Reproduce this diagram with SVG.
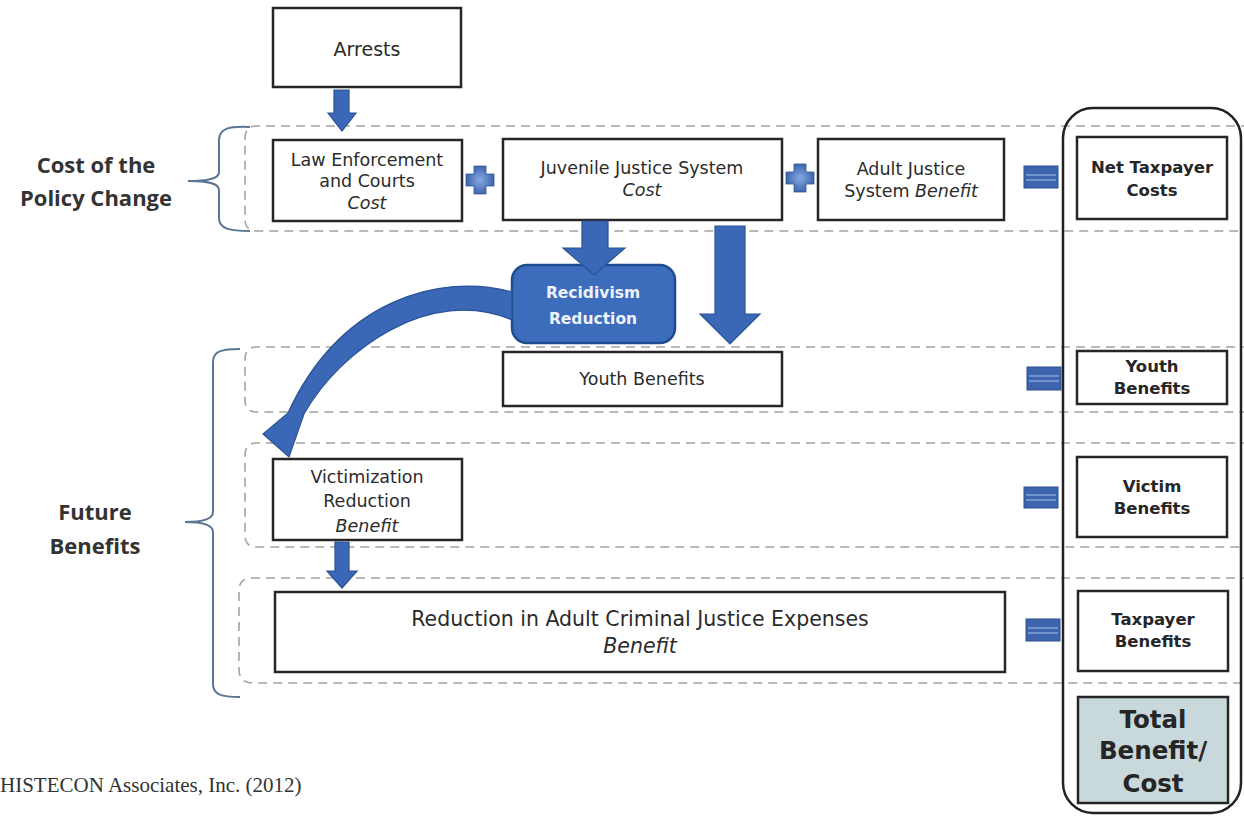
<svg xmlns="http://www.w3.org/2000/svg" width="1244" height="816" viewBox="0 0 1244 816">
<defs>
<radialGradient id="plusGrad" cx="0.5" cy="0.5" r="0.6"><stop offset="0" stop-color="#86a9e2"/><stop offset="1" stop-color="#2f58a3"/></radialGradient>
<style>
.box{fill:#fff;stroke:#262626;stroke-width:2.5}
.dash{fill:none;stroke:#a3a3a3;stroke-width:1.6;stroke-dasharray:9 6}
.brace{fill:none;stroke:#5b7592;stroke-width:2}
.t{font-family:"DejaVu Sans",Verdana,sans-serif;font-size:17.5px;fill:#2b2b2b;text-anchor:middle}
.i{font-style:italic}
.b{font-family:"DejaVu Sans",Verdana,sans-serif;font-weight:bold;font-size:16.5px;fill:#262626;text-anchor:middle}
.lbl{font-family:"Open Sans","Liberation Sans",sans-serif;font-weight:bold;font-size:22px;fill:#333;text-anchor:middle}
.blk{fill:#3a68b6;stroke:#2a5395;stroke-width:1.2}
.eq{fill:#3f64ae;stroke:#2c4f93;stroke-width:1}
.eql{stroke:#86a3d6;stroke-width:1.5}
.plus{fill:url(#plusGrad);stroke:#2f58a3;stroke-width:0.8}
</style>
</defs>
<rect width="1244" height="816" fill="#fff"/>

<g id="groups">
<path class="dash" d="M1250,126 H257 Q245,126 245,138 V219 Q245,231 257,231 H1250"/>
<path class="dash" d="M1250,347 H257 Q245,347 245,359 V400 Q245,412 257,412 H1250"/>
<path class="dash" d="M1250,443 H257 Q245,443 245,455 V535 Q245,547 257,547 H1250"/>
<path class="dash" d="M1250,578 H252 Q239,578 239,591 V669 Q239,683 252,683 H1250"/>
</g>

<g id="brace-cost">
<path class="brace" d="M250,127 C230,126 219,128 219,140 V172 C219,179 208,181 188,181 C208,181 219,183 219,190 V218 C219,229 230,231 250,231"/>
<text class="lbl" x="96" y="173">Cost of the</text>
<text class="lbl" x="96" y="206">Policy Change</text>
</g>
<g id="brace-future">
<path class="brace" d="M240,349 C222,349 213,351 213,362 V512 C213,519 202,522 185,522 C202,522 213,525 213,532 V684 C213,695 222,697 240,697"/>
<text class="lbl" x="95" y="520">Future</text>
<text class="lbl" x="95" y="554">Benefits</text>
</g>

<g id="total-column">
<rect x="1063" y="108" width="178" height="705" rx="30" fill="none" stroke="#222" stroke-width="2.5"/>
</g>

<g id="arrests">
<rect class="box" x="273" y="8" width="188" height="79"/>
<text class="t" x="367" y="56" style="font-size:19px">Arrests</text>
</g>
<g id="law">
<rect class="box" x="273" y="140" width="189" height="81"/>
<text class="t" x="367" y="166">Law Enforcement</text>
<text class="t" x="367" y="187">and Courts</text>
<text class="t i" x="367" y="209">Cost</text>
</g>
<g id="plus1"><path class="plus" d="M474,166 H486 V174 H494 V186 H486 V194 H474 V186 H466 V174 H474 Z"/></g>
<g id="juvenile">
<rect class="box" x="503" y="139" width="279" height="81"/>
<text class="t" x="642" y="174">Juvenile Justice System</text>
<text class="t i" x="642" y="196">Cost</text>
</g>
<g id="plus2"><path class="plus" transform="translate(320,-2)" d="M474,166 H486 V174 H494 V186 H486 V194 H474 V186 H466 V174 H474 Z"/></g>
<g id="adult">
<rect class="box" x="818" y="139" width="186" height="81"/>
<text class="t" x="911" y="175">Adult Justice</text>
<text class="t" x="911" y="197">System <tspan class="i">Benefit</tspan></text>
</g>
<g id="eq-net">
<rect class="eq" x="1024" y="166" width="34" height="22"/>
<line class="eql" x1="1026" y1="175" x2="1056" y2="175"/><line class="eql" x1="1026" y1="180" x2="1056" y2="180"/>
</g>
<g id="net-taxpayer">
<rect class="box" x="1077" y="137" width="150" height="82"/>
<text class="b" x="1152" y="173">Net Taxpayer</text>
<text class="b" x="1152" y="196">Costs</text>
</g>

<g id="recidivism">
<rect x="512" y="265" width="163" height="78" rx="15" fill="#3c6cbc" stroke="#1f4c8e" stroke-width="2.5"/>
<text class="b" x="593" y="298" style="fill:#eef3fb;font-size:15.5px">Recidivism</text>
<text class="b" x="593" y="324" style="fill:#eef3fb;font-size:15.5px">Reduction</text>
</g>

<g id="youth">
<rect class="box" x="503" y="352" width="279" height="54"/>
<text class="t" x="642" y="385">Youth Benefits</text>
</g>
<g id="eq-youth">
<rect class="eq" x="1027" y="367" width="34" height="23"/>
<line class="eql" x1="1029" y1="376" x2="1059" y2="376"/><line class="eql" x1="1029" y1="381" x2="1059" y2="381"/>
</g>
<g id="youth-benefits">
<rect class="box" x="1077" y="351" width="150" height="53"/>
<text class="b" x="1152" y="372">Youth</text>
<text class="b" x="1152" y="394">Benefits</text>
</g>

<g id="victimization">
<rect class="box" x="273" y="459" width="189" height="81"/>
<text class="t" x="367" y="483">Victimization</text>
<text class="t" x="367" y="507">Reduction</text>
<text class="t i" x="367" y="532">Benefit</text>
</g>
<g id="eq-victim">
<rect class="eq" x="1024" y="487" width="34" height="21"/>
<line class="eql" x1="1026" y1="495" x2="1056" y2="495"/><line class="eql" x1="1026" y1="500" x2="1056" y2="500"/>
</g>
<g id="victim-benefits">
<rect class="box" x="1077" y="457" width="150" height="80"/>
<text class="b" x="1152" y="492">Victim</text>
<text class="b" x="1152" y="514">Benefits</text>
</g>

<g id="reduction">
<rect class="box" x="275" y="592" width="730" height="80"/>
<text class="t" x="640" y="626" style="font-size:20.5px">Reduction in Adult Criminal Justice Expenses</text>
<text class="t i" x="640" y="653" style="font-size:20.5px">Benefit</text>
</g>
<g id="eq-taxpayer">
<rect class="eq" x="1026" y="619" width="34" height="22"/>
<line class="eql" x1="1028" y1="628" x2="1058" y2="628"/><line class="eql" x1="1028" y1="633" x2="1058" y2="633"/>
</g>
<g id="taxpayer-benefits">
<rect class="box" x="1078" y="591" width="150" height="80"/>
<text class="b" x="1153" y="625">Taxpayer</text>
<text class="b" x="1153" y="647">Benefits</text>
</g>

<g id="total">
<rect class="box" x="1078" y="697" width="150" height="106" style="fill:#c8d8db"/>
<text class="b" x="1153" y="728" style="font-size:24.5px">Total</text>
<text class="b" x="1153" y="759" style="font-size:24.5px">Benefit/</text>
<text class="b" x="1153" y="792" style="font-size:24.5px">Cost</text>
</g>

<g id="connectors">
<path class="blk" d="M334,90 H349 V113 H356 L342,131 L328,113 H334 Z"/>
<path class="blk" d="M335,542 H349 V571 H357 L342,588 L327,571 H335 Z"/>
<path class="blk" d="M582,221 H608 V248 H625 L594,275 L563,248 H582 Z"/>
<path class="blk" d="M715,226 H745 V314 H760 L730,344 L700,314 H715 Z"/>
<path class="blk" d="M512,292 C440,272 340,300 288,413 L263,434 L289,457 L304,414 C340,350 430,285 512,320 Z"/>
</g>

<g id="source">
<text x="0" y="792" style="font-family:'Liberation Serif','Times New Roman',serif;font-size:21px;fill:#333">HISTECON Associates, Inc. (2012)</text>
</g>
</svg>
